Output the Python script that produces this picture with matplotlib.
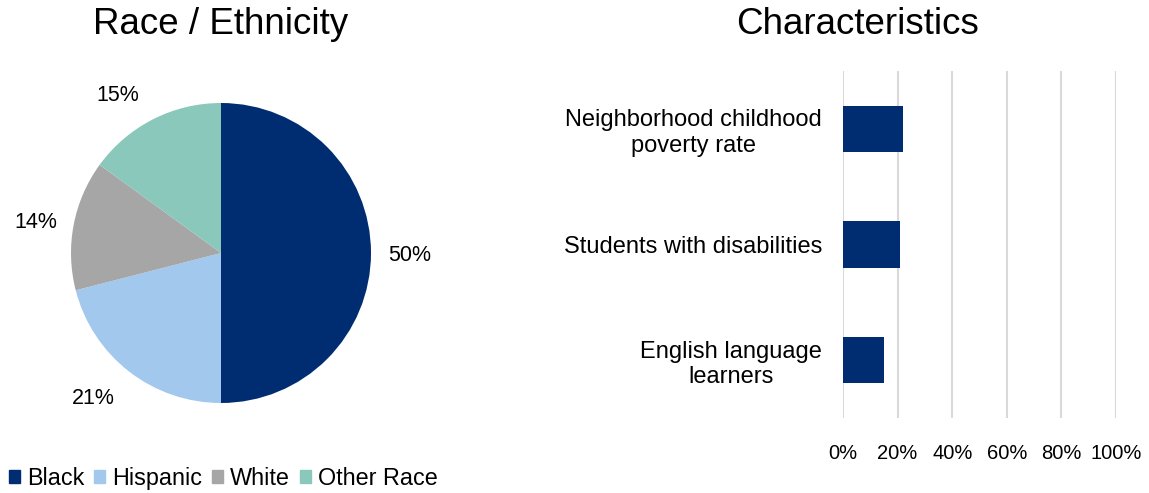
import numpy as np
import matplotlib.pyplot as plt
from matplotlib.patches import Patch

plt.rcParams['font.family'] = ['Liberation Sans', 'DejaVu Sans']

W, H = 1149, 493
dpi = 100

race_labels = ['Black', 'Hispanic', 'White', 'Other Race']
race_values = [50, 21, 14, 15]
race_colors = ['#002D72', '#A3C8EE', '#A6A6A6', '#89C8BB']

char_labels = ['Neighborhood childhood\npoverty rate',
               'Students with disabilities',
               'English language\nlearners']
char_values = [0.22, 0.21, 0.15]
x_ticks = [0, 0.2, 0.4, 0.6, 0.8, 1.0]
bar_color = '#002D72'


def box(left, top, right, bottom):
    # pixel box -> figure fraction
    return [left / W, 1 - bottom / H, (right - left) / W, (bottom - top) / H]


fig = plt.figure(figsize=(W / dpi, H / dpi), dpi=dpi)

# pie
ax1 = fig.add_axes(box(71, 103, 371, 403))
wedges, _, pcts = ax1.pie(race_values, colors=race_colors, startangle=90,
                          counterclock=False, autopct='%d%%', radius=1,
                          wedgeprops=dict(linewidth=0),
                          textprops=dict(fontsize=15.5))
# "outside end" style labels, placed from each wedge's mid angle
for w, t in zip(wedges, pcts):
    a = np.deg2rad((w.theta1 + w.theta2) / 2)
    c, s = np.cos(a), np.sin(a)
    t.set_position((1.04 * c + 0.215 * np.sign(c), 1.2 * s - 0.02))
    t.set_ha('center')
    t.set_va('center')
ax1.set_xlim(-1, 1)
ax1.set_ylim(-1, 1)
ax1.set_aspect('equal')
fig.text(221 / W, 1 - 25 / H, 'Race / Ethnicity', ha='center', va='center', fontsize=26.5)

handles = [Patch(color=c) for c in race_colors]
fig.legend(handles, race_labels, loc='lower left', bbox_to_anchor=(0.0, -0.012),
           ncol=4, frameon=False, fontsize=16.8, handlelength=0.47, handleheight=0.47,
           handletextpad=0.3, columnspacing=0.42, borderaxespad=0)

# bars
ax2 = fig.add_axes(box(843, 71, 1116, 418))
ypos = list(range(len(char_values)))
ax2.barh(ypos, char_values, height=0.4, color=bar_color, zorder=3)
ax2.set_ylim(2.5, -0.5)
ax2.set_xlim(0, 1.0)
ax2.set_yticks(ypos)
ax2.set_yticklabels(char_labels, fontsize=17, ha='right', multialignment='center')
ax2.tick_params(axis='y', length=0, pad=15)
ax2.set_xticks(x_ticks)
ax2.set_xticklabels([f'{int(round(t * 100))}%' for t in x_ticks], fontsize=14.5)
ax2.tick_params(axis='x', length=0, pad=19)
ax2.grid(axis='x', color='#D9D9D9', linewidth=1.5, zorder=0)
for s in ax2.spines.values():
    s.set_visible(False)
fig.text(858 / W, 1 - 25 / H, 'Characteristics', ha='center', va='center', fontsize=26.5)

fig.savefig('out.png', dpi=dpi)
